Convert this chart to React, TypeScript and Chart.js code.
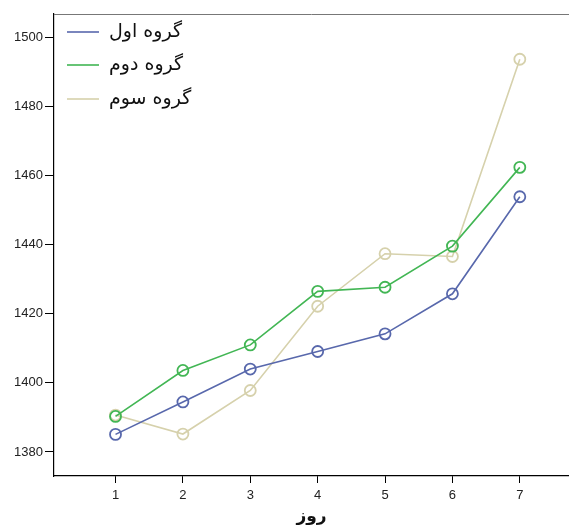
import React, { useEffect, useRef } from "react";
import { Chart, registerables } from "chart.js";

Chart.register(...registerables);

const days = [1, 2, 3, 4, 5, 6, 7];
const groupNames = ["گروه اول", "گروه دوم", "گروه سوم"];
const group1 = [1385.1, 1394.5, 1404.0, 1409.1, 1414.2, 1425.8, 1453.9];
const group2 = [1390.3, 1403.6, 1411.0, 1426.5, 1427.7, 1439.6, 1462.4];
const group3 = [1390.7, 1385.2, 1397.8, 1422.2, 1437.4, 1436.6, 1493.7];
const yTicks = [1380, 1400, 1420, 1440, 1460, 1480, 1500];
const xTitle = "روز";

const colors = ["rgb(88,104,172)", "rgb(66,182,84)", "rgb(214,209,172)"];

export default function App() {
  const ref = useRef<HTMLCanvasElement | null>(null);

  useEffect(() => {
    if (!ref.current) return;
    const series = [group1, group2, group3];

    const framePlugin = {
      id: "frame",
      afterDraw(chart: any) {
        const { ctx, chartArea } = chart;
        ctx.save();
        ctx.strokeStyle = "#777";
        ctx.lineWidth = 1;
        ctx.beginPath();
        ctx.moveTo(chartArea.left, chartArea.top + 0.5);
        ctx.lineTo(chartArea.right, chartArea.top + 0.5);
        ctx.stroke();
        // legend
        const rows = [32, 65, 99];
        ctx.font = '19px "DejaVu Sans", sans-serif';
        ctx.textBaseline = "middle";
        ctx.textAlign = "left";
        groupNames.forEach((name, i) => {
          ctx.strokeStyle = colors[i];
          ctx.lineWidth = 1.6;
          ctx.beginPath();
          ctx.moveTo(67, rows[i]);
          ctx.lineTo(99, rows[i]);
          ctx.stroke();
          ctx.fillStyle = "#111";
          ctx.fillText(name, 109, rows[i]);
        });
        ctx.restore();
      },
    };

    const chart = new Chart(ref.current, {
      type: "line",
      data: {
        datasets: series.map((s, i) => ({
          label: groupNames[i],
          data: s.map((v, j) => ({ x: days[j], y: v })),
          borderColor: colors[i],
          backgroundColor: "rgba(255,255,255,0)",
          borderWidth: 1.6,
          pointRadius: 5.5,
          pointBorderWidth: 1.8,
          pointBorderColor: colors[i],
          pointBackgroundColor: "rgba(255,255,255,0)",
          tension: 0,
        })),
      },
      options: {
        responsive: false,
        animation: false,
        devicePixelRatio: 1,
        layout: { autoPadding: false, padding: { top: 14, right: 0, left: 0, bottom: 0 } },
        plugins: {
          legend: { display: false },
          tooltip: { enabled: false },
        },
        scales: {
          x: {
            type: "linear",
            min: 0.087,
            max: 7.73,
            afterBuildTicks: (scale: any) => {
              scale.ticks = days.map((d) => ({ value: d }));
            },
            afterFit: (scale: any) => {
              scale.height = 49;
            },
            grid: {
              drawOnChartArea: false,
              drawTicks: true,
              tickLength: 7,
              color: "#000",
            },
            border: { display: true, color: "#000", width: 1.2 },
            ticks: {
              padding: 5,
              color: "#222",
              font: { family: '"Liberation Sans", Arial, sans-serif', size: 13 },
              callback: (v: any) => String(v),
            },
            title: {
              display: true,
              text: xTitle,
              color: "#111",
              font: { family: '"DejaVu Sans", sans-serif', size: 17, weight: "bold" },
              padding: { top: 0, bottom: -2 },
            },
          },
          y: {
            type: "linear",
            min: 1373.05,
            max: 1506.8,
            afterBuildTicks: (scale: any) => {
              scale.ticks = yTicks.map((t) => ({ value: t }));
            },
            afterFit: (scale: any) => {
              scale.width = 54;
            },
            grid: {
              drawOnChartArea: false,
              drawTicks: true,
              tickLength: 9,
              color: "#000",
            },
            border: { display: true, color: "#000", width: 1.2 },
            ticks: {
              padding: 2,
              color: "#222",
              font: { family: '"Liberation Sans", Arial, sans-serif', size: 13 },
              callback: (v: any) => String(v),
            },
          },
        },
      },
      plugins: [framePlugin],
    });
    return () => chart.destroy();
  }, []);

  return (
    <div style={{ position: "absolute", left: 0, top: 0, width: 569, height: 525, background: "#fff" }}>
      <canvas ref={ref} width={569} height={525} style={{ display: "block" }} />
    </div>
  );
}
